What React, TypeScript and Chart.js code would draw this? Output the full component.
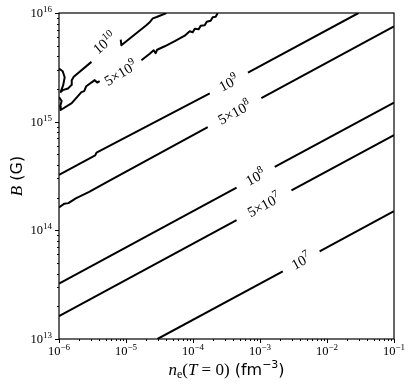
import React, { useEffect, useRef } from "react";
import { Chart, registerables } from "chart.js";

Chart.register(...registerables);

// ---------- axes ----------
const X_MIN = 1e-6;
const X_MAX = 1e-1;
const Y_MIN = 1e13;
const Y_MAX = 1e16;
const xMajorExps = [-6, -5, -4, -3, -2, -1];
const yMajorExps = [13, 14, 15, 16];

// ---------- contour lines: [n_e (fm^-3), B (G)] ----------
// T = 1e10
const t1e10A: [number, number][] = [
  [1.0e-6, 3.08e15], [1.135e-6, 2.91e15], [1.216e-6, 2.56e15], [1.156e-6, 2.17e15],
  [1.059e-6, 1.88e15], [1.135e-6, 1.95e15], [1.361e-6, 2.02e15], [1.531e-6, 2.17e15],
  [1.549e-6, 2.41e15], [1.66e-6, 2.59e15], [3.05e-6, 3.55e15],
];
const t1e10B: [number, number][] = [
  [8.34e-6, 5.7e15], [8.53e-6, 5.05e15], [2.01e-5, 7.71e15], [2.26e-5, 8.22e15],
  [2.51e-5, 8.93e15], [2.87e-5, 9.18e15], [4.01e-5, 1.0e16],
];
// T = 5e9
const t5e9A: [number, number][] = [
  [1.0e-6, 1.68e15], [1.096e-6, 1.55e15], [1.042e-6, 1.39e15], [1.059e-6, 1.28e15],
  [1.549e-6, 1.48e15], [2.16e-6, 1.87e15], [2.38e-6, 1.91e15], [2.55e-6, 2.12e15],
  [3.41e-6, 2.41e15], [3.72e-6, 2.29e15], [4.05e-6, 2.36e15],
];
const t5e9B: [number, number][] = [
  [1.698e-5, 3.68e15], [2.26e-5, 4.22e15], [2.59e-5, 4.54e15], [2.77e-5, 4.27e15],
  [2.92e-5, 4.59e15], [3.78e-5, 4.94e15], [5.35e-5, 5.5e15], [7.53e-5, 6.18e15],
  [8.93e-5, 6.79e15], [9.91e-5, 6.65e15], [1.062e-4, 7.16e15], [1.216e-4, 7.08e15],
  [1.303e-4, 7.62e15], [1.496e-4, 7.71e15], [1.603e-4, 8.3e15], [1.837e-4, 8.47e15],
  [1.968e-4, 9.14e15], [2.18e-4, 9.23e15], [2.34e-4, 1.0e16],
];
// T = 1e9
const t1e9A: [number, number][] = [
  [1.0e-6, 3.24e14], [3.47e-6, 4.9e14], [3.63e-6, 5.19e14], [1.78e-4, 1.82e15],
];
const t1e9B: [number, number][] = [[6.61e-4, 2.82e15], [2.95e-2, 1.0e16]];
// T = 5e8
const t5e8A: [number, number][] = [
  [1.0e-6, 1.62e14], [1.2e-6, 1.76e14], [1.38e-6, 1.78e14], [1.78e-6, 1.97e14],
  [2.82e-6, 2.26e14], [5.01e-6, 2.75e14], [1.66e-4, 8.91e14],
];
const t5e8B: [number, number][] = [[1.047e-3, 1.648e15], [1.0e-1, 7.53e15]];
// T = 1e8
const t1e8A: [number, number][] = [[1.0e-6, 3.24e13], [4.47e-4, 2.47e14]];
const t1e8B: [number, number][] = [[1.66e-3, 3.83e14], [1.0e-1, 1.5e15]];
// T = 5e7
const t5e7A: [number, number][] = [[1.0e-6, 1.62e13], [4.47e-4, 1.24e14]];
const t5e7B: [number, number][] = [[2.95e-3, 2.33e14], [1.0e-1, 7.53e14]];
// T = 1e7
const t1e7A: [number, number][] = [[2.95e-5, 1.0e13], [2.19e-3, 4.2e13]];
const t1e7B: [number, number][] = [[7.76e-3, 6.41e13], [1.0e-1, 1.5e14]];

const segments = [
  t1e10A, t1e10B, t5e9A, t5e9B, t1e9A, t1e9B, t5e8A, t5e8B,
  t1e8A, t1e8B, t5e7A, t5e7B, t1e7A, t1e7B,
];

// ---------- inline contour labels ----------
const labelPrefix = ["", "5×", "", "5×", "", "5×", ""];
const labelExp = ["10", "9", "9", "8", "8", "7", "7"];
const labelN = [4.81e-6, 8.36e-6, 3.43e-4, 4.17e-4, 8.61e-4, 1.148e-3, 4.12e-3];
const labelB = [5.27e15, 2.79e15, 2.26e15, 1.21e15, 3.08e14, 1.7e14, 5.19e13];
const labelAngleDeg = [40, 31, 28.4, 28.4, 28.4, 28.4, 28.4];

// ---------- styles ----------
const SERIF = '"Liberation Serif", "DejaVu Serif", serif';
const SANS = '"DejaVu Sans", "Liberation Sans", sans-serif';
const TICK_BASE = `12.5px ${SERIF}`;
const TICK_SUP = `9px ${SERIF}`;
const LABEL_BASE = `14.5px ${SERIF}`;
const LABEL_SUP = `10.5px ${SERIF}`;

type Part = { t: string; font: string; dy?: number };

function richWidth(ctx: CanvasRenderingContext2D, parts: Part[]) {
  let w = 0;
  for (const p of parts) {
    ctx.font = p.font;
    w += ctx.measureText(p.t).width;
  }
  return w;
}

function drawRich(
  ctx: CanvasRenderingContext2D,
  parts: Part[],
  x: number,
  y: number,
  align: "left" | "center" | "right"
) {
  const w = richWidth(ctx, parts);
  let cx = align === "center" ? x - w / 2 : align === "right" ? x - w : x;
  ctx.textAlign = "left";
  ctx.textBaseline = "alphabetic";
  for (const p of parts) {
    ctx.font = p.font;
    ctx.fillText(p.t, cx, y + (p.dy || 0));
    cx += ctx.measureText(p.t).width;
  }
}

function powParts(exp: number): Part[] {
  const e = exp < 0 ? "\u2212" + Math.abs(exp) : String(exp);
  return [
    { t: "10", font: TICK_BASE },
    { t: e, font: TICK_SUP, dy: -5 },
  ];
}

const decorPlugin = {
  id: "decor",
  afterDatasetsDraw(chart: any) {
    const ctx: CanvasRenderingContext2D = chart.ctx;
    const xs = chart.scales.x;
    const ys = chart.scales.y;
    ctx.save();
    ctx.fillStyle = "#000";
    for (let i = 0; i < labelExp.length; i++) {
      const px = xs.getPixelForValue(labelN[i]);
      const py = ys.getPixelForValue(labelB[i]);
      ctx.save();
      ctx.translate(px, py);
      ctx.rotate((-labelAngleDeg[i] * Math.PI) / 180);
      const parts: Part[] = [];
      if (labelPrefix[i]) parts.push({ t: labelPrefix[i], font: LABEL_BASE });
      parts.push({ t: "10", font: LABEL_BASE });
      parts.push({ t: labelExp[i], font: LABEL_SUP, dy: -6 });
      drawRich(ctx, parts, 0, 4.5, "center");
      ctx.restore();
    }
    ctx.restore();
  },
  afterDraw(chart: any) {
    const ctx: CanvasRenderingContext2D = chart.ctx;
    const a = chart.chartArea;
    const xs = chart.scales.x;
    const ys = chart.scales.y;
    ctx.save();
    ctx.strokeStyle = "#000";
    ctx.fillStyle = "#000";
    // frame
    ctx.lineWidth = 1.2;
    ctx.strokeRect(a.left, a.top, a.right - a.left, a.bottom - a.top);
    // ticks
    ctx.lineWidth = 1;
    ctx.beginPath();
    for (let e = -6; e <= -1; e++) {
      for (let m = 1; m <= 9; m++) {
        const v = m * Math.pow(10, e);
        if (v > X_MAX * 1.0001) continue;
        const px = Math.round(xs.getPixelForValue(v)) + 0.5;
        const len = m === 1 ? 4 : 2;
        ctx.moveTo(px, a.bottom);
        ctx.lineTo(px, a.bottom + len);
      }
    }
    for (let e = 13; e <= 16; e++) {
      for (let m = 1; m <= 9; m++) {
        const v = m * Math.pow(10, e);
        if (v > Y_MAX * 1.0001) continue;
        const py = Math.round(ys.getPixelForValue(v)) + 0.5;
        const len = m === 1 ? 4 : 2;
        ctx.moveTo(a.left, py);
        ctx.lineTo(a.left - len, py);
      }
    }
    ctx.stroke();
    // tick labels
    for (const e of xMajorExps) {
      const px = xs.getPixelForValue(Math.pow(10, e));
      drawRich(ctx, powParts(e), px, a.bottom + 16, "center");
    }
    for (const e of yMajorExps) {
      const py = ys.getPixelForValue(Math.pow(10, e));
      drawRich(ctx, powParts(e), a.left - 7, py + 4, "right");
    }
    // x title
    const xt: Part[] = [
      { t: "n", font: `italic 17px ${SERIF}` },
      { t: "e", font: `12px ${SERIF}`, dy: 3 },
      { t: "(", font: `17px ${SERIF}` },
      { t: "T", font: `italic 17px ${SERIF}` },
      { t: " = 0)", font: `17px ${SERIF}` },
      { t: " (fm", font: `16px ${SANS}` },
      { t: "\u22123", font: `11px ${SANS}`, dy: -7 },
      { t: ")", font: `16px ${SANS}` },
    ];
    drawRich(ctx, xt, (a.left + a.right) / 2, 375, "center");
    // y title
    ctx.save();
    ctx.translate(21.5, (a.top + a.bottom) / 2);
    ctx.rotate(-Math.PI / 2);
    const yt: Part[] = [
      { t: "B", font: `italic 17px ${SERIF}` },
      { t: " (G)", font: `16px ${SANS}` },
    ];
    drawRich(ctx, yt, 0, 0, "center");
    ctx.restore();
    ctx.restore();
  },
};

export default function App() {
  const ref = useRef<HTMLCanvasElement | null>(null);
  useEffect(() => {
    if (!ref.current) return;
    const chart = new Chart(ref.current, {
      type: "scatter",
      data: {
        datasets: segments.map((seg) => ({
          data: seg.map(([x, y]) => ({ x, y })),
          showLine: true,
          borderColor: "#000",
          backgroundColor: "#000",
          borderWidth: 2,
          pointRadius: 0,
          pointHoverRadius: 0,
          fill: false,
          tension: 0,
          borderJoinStyle: "round" as const,
          borderCapStyle: "butt" as const,
        })),
      },
      options: {
        responsive: false,
        devicePixelRatio: 1,
        animation: false,
        events: [],
        layout: { padding: { left: 59, top: 13, right: 21, bottom: 51 } },
        scales: {
          x: { type: "logarithmic", min: X_MIN, max: X_MAX, display: false },
          y: { type: "logarithmic", min: Y_MIN, max: Y_MAX, display: false },
        },
        plugins: {
          legend: { display: false },
          tooltip: { enabled: false },
        },
      },
      plugins: [decorPlugin],
    });
    return () => chart.destroy();
  }, []);
  return (
    <div style={{ position: "absolute", left: 0, top: 0, width: 415, height: 390, background: "#fff" }}>
      <canvas ref={ref} width={415} height={390} style={{ width: 415, height: 390 }} />
    </div>
  );
}
